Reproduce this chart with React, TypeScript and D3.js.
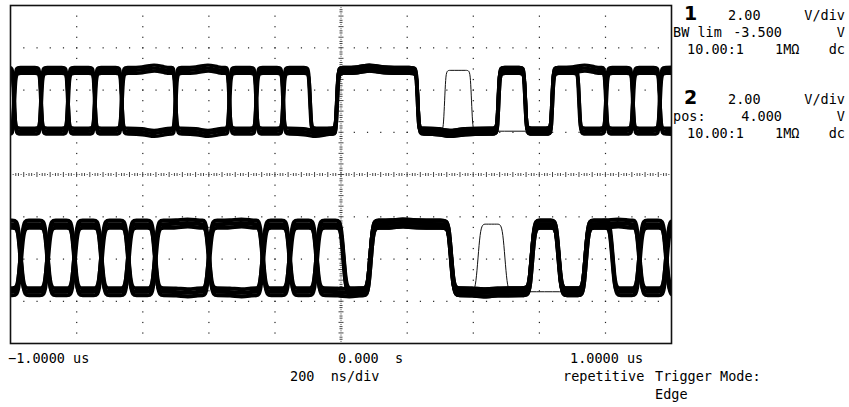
import React from "react";
import * as d3 from "d3";

// ---- screen geometry ----
const WIDTH = 849;
const HEIGHT = 407;
const LEFT = 10.5;
const TOP = 5.5;
const RIGHT = 671.5;
const BOTTOM = 343.5;
const X_DIVS = 10;
const Y_DIVS = 8;

// ---- timebase ----
const timeDomainNs = [-1000, 1000];
const bitNs = 81.4;
const firstSlot = -13; // slot index of the first entry in each sweep array

// ---- channel 1 ----
const ch1OffsetV = -3.5;
const ch1VoltsPerDiv = 2;
const ch1LowV = -1.45;
const ch1HighV = 1.43;
const ch1EdgeNs = -12.1;
const ch1RiseNs = 10;
const ch1RingV = 0.16;
// one value per bit slot, slots -13 .. 12
const ch1SweepA = [0, 1, 0, 1, 0, 1, 1, 0, 0, 1, 0, 1, 0, 1, 1, 1, 0, 0, 0, 1, 0, 1, 0, 1, 0, 1];
const ch1SweepB = [1, 0, 1, 0, 1, 0, 0, 1, 1, 0, 1, 0, 0, 1, 1, 1, 0, 0, 0, 1, 0, 1, 1, 0, 1, 0];
const ch1RareA = [0, 1, 0, 1, 0, 1, 1, 0, 0, 1, 0, 1, 0, 1, 1, 1, 0, 1, 0, 1, 0, 1, 0, 1, 0, 1];
const ch1RareB = [1, 0, 1, 0, 1, 0, 0, 1, 1, 0, 1, 0, 0, 1, 1, 1, 0, 0, 0, 0, 0, 1, 1, 0, 1, 0];
const ch1SpreadV = [-0.14, 0, 0.14];

// ---- channel 2 ----
const ch2OffsetV = 4.0;
const ch2VoltsPerDiv = 2;
const ch2LowV = -1.55;
const ch2HighV = 1.65;
const ch2EdgeNs = 7.6;
const ch2RiseNs = 20;
const ch2RingV = 0.08;
const ch2SweepA = [1, 0, 1, 0, 1, 0, 1, 1, 0, 0, 1, 0, 1, 0, 1, 1, 1, 0, 0, 0, 1, 0, 1, 0, 1, 0];
const ch2SweepB = [0, 1, 0, 1, 0, 1, 0, 0, 1, 1, 0, 1, 0, 0, 1, 1, 1, 0, 0, 0, 1, 0, 1, 1, 0, 1];
const ch2RareA = [1, 0, 1, 0, 1, 0, 1, 1, 0, 0, 1, 0, 1, 0, 1, 1, 1, 0, 1, 0, 1, 0, 1, 0, 1, 0];
const ch2RareB = [0, 1, 0, 1, 0, 1, 0, 0, 1, 1, 0, 1, 0, 0, 1, 1, 1, 0, 0, 0, 0, 0, 1, 1, 0, 1];
const ch2SpreadV = [-0.17, 0, 0.17];

// small timing spread between overlaid sweeps
const sweepShiftNs = [1, -1, 0];

// ---- annotation text ----
const timeTickLabels = ["\u22121.0000 us", "0.000  s", "1.0000 us"];
const timebaseLabel = "200  ns/div";
const acquisitionLabel = "repetitive";
const triggerLabels = ["Trigger Mode:", "Edge"];

const xScale = d3.scaleLinear().domain(timeDomainNs).range([LEFT, RIGHT]);
const y1 = d3
  .scaleLinear()
  .domain([ch1OffsetV - 4 * ch1VoltsPerDiv, ch1OffsetV + 4 * ch1VoltsPerDiv])
  .range([BOTTOM, TOP]);
const y2 = d3
  .scaleLinear()
  .domain([ch2OffsetV - 4 * ch2VoltsPerDiv, ch2OffsetV + 4 * ch2VoltsPerDiv])
  .range([BOTTOM, TOP]);

type Pt = [number, number];

// Control points for one acquisition: flat levels joined by short edges,
// with a small overshoot hump on runs of two bits or more.
function sweepPoints(
  bits: number[],
  edgeNs: number,
  lowV: number,
  highV: number,
  riseNs: number,
  ringV: number,
  dv: number,
  dt: number
): Pt[] {
  const level = (b: number) => (b ? highV : lowV) + dv;
  const edges: { t: number; from: number; to: number }[] = [];
  for (let i = 1; i < bits.length; i++) {
    if (bits[i] !== bits[i - 1]) {
      edges.push({ t: edgeNs + (firstSlot + i) * bitNs + dt, from: bits[i - 1], to: bits[i] });
    }
  }
  const pts: Pt[] = [[timeDomainNs[0] - 40, level(bits[0])]];
  edges.forEach((e, idx) => {
    const a = level(e.from);
    const b = level(e.to);
    pts.push([e.t - riseNs, a], [e.t - 0.3 * riseNs, a], [e.t + 0.3 * riseNs, b], [e.t + riseNs, b]);
    const next = idx + 1 < edges.length ? edges[idx + 1].t : Infinity;
    if (next - e.t >= 1.9 * bitNs) {
      const s = e.to ? 1 : -1;
      pts.push([e.t + 0.8 * bitNs, b], [e.t + 1.2 * bitNs, b + s * ringV], [e.t + 1.6 * bitNs, b]);
    }
  });
  pts.push([timeDomainNs[1] + 40, level(bits[bits.length - 1])]);
  return pts;
}

function Trace({
  sweeps,
  rare,
  yScale,
  edgeNs,
  lowV,
  highV,
  riseNs,
  ringV,
  spread,
  width,
}: {
  sweeps: number[][];
  rare: number[][];
  yScale: d3.ScaleLinear<number, number>;
  edgeNs: number;
  lowV: number;
  highV: number;
  riseNs: number;
  ringV: number;
  spread: number[];
  width: number;
}) {
  const line = d3
    .line<Pt>()
    .x((d) => xScale(d[0]))
    .y((d) => yScale(d[1]))
    .curve(d3.curveBasis);
  return (
    <g>
      {rare.map((bits, i) => (
        <path
          key={"r" + i}
          d={line(sweepPoints(bits, edgeNs, lowV, highV, riseNs, 0, 0, 0)) || ""}
          fill="none"
          stroke="#111"
          strokeWidth={1}
        />
      ))}
      {sweeps.map((bits, i) =>
        spread.map((dv, j) => (
          <path
            key={i + "-" + j}
            d={line(sweepPoints(bits, edgeNs, lowV, highV, riseNs, ringV, dv, sweepShiftNs[j])) || ""}
            fill="none"
            stroke="#000"
            strokeWidth={width}
            strokeLinejoin="round"
          />
        ))
      )}
    </g>
  );
}

function Graticule() {
  const w = RIGHT - LEFT;
  const h = BOTTOM - TOP;
  const dx = w / X_DIVS;
  const dy = h / Y_DIVS;
  const cx = LEFT + w / 2;
  const cy = TOP + h / 2;
  const dots: React.ReactNode[] = [];
  // horizontal graticule rows: a dot every fifth of a division
  d3.range(1, Y_DIVS).forEach((j) => {
    if (j === Y_DIVS / 2) return;
    const y = TOP + j * dy;
    d3.range(1, X_DIVS * 5).forEach((k) => {
      dots.push(<rect key={`h${j}-${k}`} x={LEFT + (k * dx) / 5 - 0.5} y={y - 0.5} width={1.2} height={1.2} fill="#222" />);
    });
  });
  // vertical graticule columns: a dot every quarter of a division
  d3.range(1, X_DIVS).forEach((i) => {
    if (i === X_DIVS / 2) return;
    const x = LEFT + i * dx;
    d3.range(1, Y_DIVS * 4).forEach((k) => {
      dots.push(<rect key={`v${i}-${k}`} x={x - 0.5} y={TOP + (k * dy) / 4 - 0.5} width={1.2} height={1.2} fill="#222" />);
    });
  });
  // centre axes with fine ticks
  d3.range(1, X_DIVS * 25).forEach((k) => {
    const x = LEFT + (k * dx) / 25;
    const big = k % 5 === 0;
    const mid = k % 5 === 2 || k % 5 === 3;
    dots.push(
      <rect
        key={`cx${k}`}
        x={x - 0.5}
        y={cy - (big ? 2.5 : mid ? 1.5 : 0.5)}
        width={1}
        height={big ? 5 : mid ? 3 : 1}
        fill="#444"
      />
    );
  });
  d3.range(1, Y_DIVS * 20).forEach((k) => {
    const y = TOP + (k * dy) / 20;
    const big = k % 5 === 0;
    const mid = k % 5 === 2 || k % 5 === 3;
    dots.push(
      <rect
        key={`cy${k}`}
        x={cx - (big ? 2.5 : mid ? 1.5 : 0.5)}
        y={y - 0.5}
        width={big ? 5 : mid ? 3 : 1}
        height={1}
        fill="#444"
      />
    );
  });
  return <g>{dots}</g>;
}

const textStyle: React.CSSProperties = {
  fontFamily: "'DejaVu Sans Mono', 'Liberation Mono', monospace",
  fontSize: 13.5,
  fill: "#000",
};

function ChannelInfo({
  num,
  y,
  scale,
  unit,
  second,
  value,
  probe,
  coupling,
}: {
  num: string;
  y: number;
  scale: string;
  unit: string;
  second: string;
  value: string;
  probe: string;
  coupling: string;
}) {
  return (
    <g style={textStyle}>
      <text x={684} y={y} style={{ ...textStyle, fontSize: 19, fontWeight: "bold", fontFamily: "'DejaVu Sans', sans-serif" }}>
        {num}
      </text>
      <text x={728} y={y}>{scale}</text>
      <text x={845} y={y} textAnchor="end">{unit}</text>
      <text x={673} y={y + 17}>{second}</text>
      <text x={782} y={y + 17} textAnchor="end">{value}</text>
      <text x={845} y={y + 17} textAnchor="end">V</text>
      <text x={687} y={y + 34}>{probe}</text>
      <text x={775} y={y + 34}>1M&#937;</text>
      <text x={845} y={y + 34} textAnchor="end">{coupling}</text>
    </g>
  );
}

export default function App() {
  return (
    <svg
      width={WIDTH}
      height={HEIGHT}
      viewBox={`0 0 ${WIDTH} ${HEIGHT}`}
      style={{ position: "absolute", left: 0, top: 0, background: "#fff" }}
    >
      <defs>
        <clipPath id="screen">
          <rect x={LEFT} y={TOP} width={RIGHT - LEFT} height={BOTTOM - TOP} />
        </clipPath>
      </defs>
      <rect x={0} y={0} width={WIDTH} height={HEIGHT} fill="#fff" />
      <Graticule />
      <g clipPath="url(#screen)">
        <Trace
          sweeps={[ch1SweepA, ch1SweepB]}
          rare={[ch1RareA, ch1RareB]}
          yScale={y1}
          edgeNs={ch1EdgeNs}
          lowV={ch1LowV}
          highV={ch1HighV}
          riseNs={ch1RiseNs}
          ringV={ch1RingV}
          spread={ch1SpreadV}
          width={3.4}
        />
        <Trace
          sweeps={[ch2SweepA, ch2SweepB]}
          rare={[ch2RareA, ch2RareB]}
          yScale={y2}
          edgeNs={ch2EdgeNs}
          lowV={ch2LowV}
          highV={ch2HighV}
          riseNs={ch2RiseNs}
          ringV={ch2RingV}
          spread={ch2SpreadV}
          width={4}
        />
      </g>
      <rect x={LEFT} y={TOP} width={RIGHT - LEFT} height={BOTTOM - TOP} fill="none" stroke="#111" strokeWidth={1.6} />

      <ChannelInfo num="1" y={20} scale="2.00" unit="V/div" second="BW lim" value="-3.500" probe="10.00:1" coupling="dc" />
      <ChannelInfo num="2" y={104} scale="2.00" unit="V/div" second="pos:" value="4.000" probe="10.00:1" coupling="dc" />

      <g style={textStyle}>
        <text x={8} y={363}>{timeTickLabels[0]}</text>
        <text x={338} y={363} style={{ ...textStyle, whiteSpace: "pre" }}>{timeTickLabels[1]}</text>
        <text x={570} y={363}>{timeTickLabels[2]}</text>
        <text x={290} y={381} style={{ ...textStyle, whiteSpace: "pre" }}>{timebaseLabel}</text>
        <text x={563} y={381}>{acquisitionLabel}</text>
        <text x={655} y={381}>{triggerLabels[0]}</text>
        <text x={655} y={399}>{triggerLabels[1]}</text>
      </g>
    </svg>
  );
}
